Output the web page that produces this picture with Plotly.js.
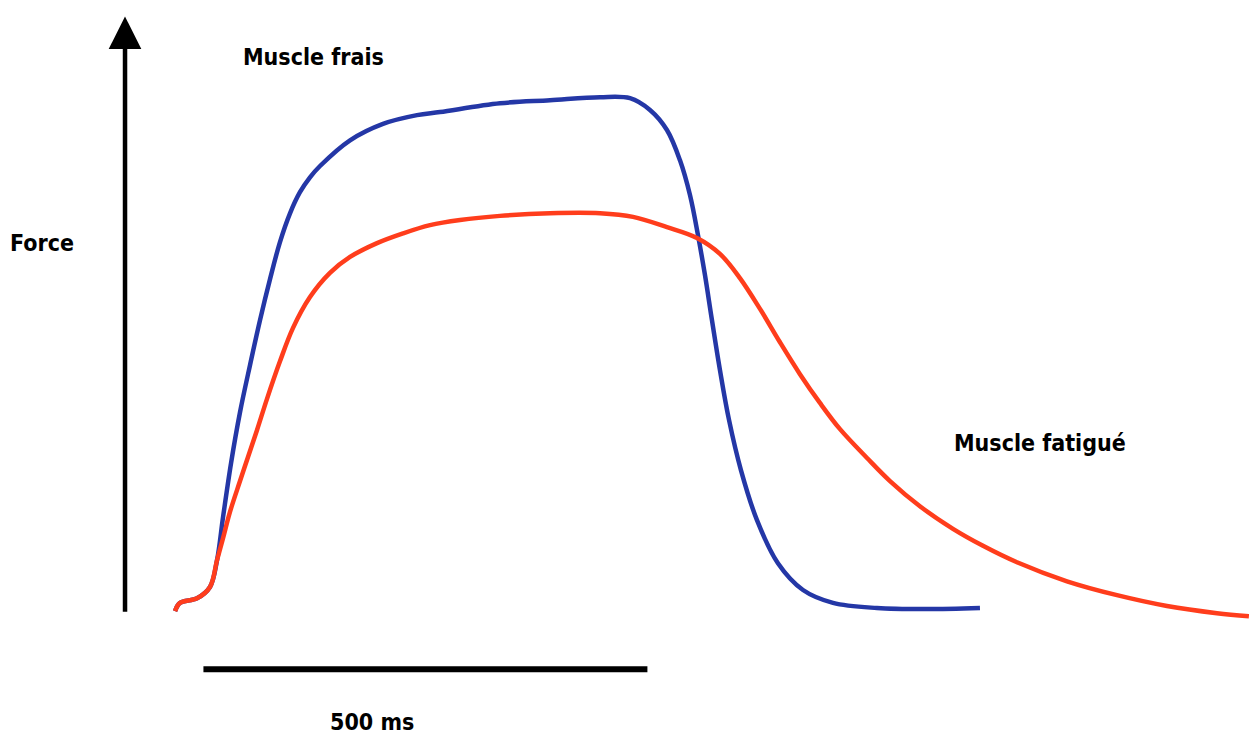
<!DOCTYPE html>
<html>
<head>
<meta charset="utf-8">
<script src="https://cdn.plot.ly/plotly-3.0.1.min.js"></script>
<style>
  html, body { margin: 0; padding: 0; background: #ffffff; }
  #chart { width: 1249px; height: 736px; }
</style>
</head>
<body>
<div id="chart"></div>
<script>
// Time (ms) and force (% of fresh-muscle peak)
const timeFrais = [0, 5.6, 24.8, 39.4, 47.3, 54.1, 63.1, 73.2, 84.5, 95.7, 107.0, 118.2, 129.5, 140.7, 152.0, 163.3, 197.1, 234.2, 272.5, 298.4, 366.0, 422.3, 478.6, 512.4, 534.9, 554.0, 568.7, 580.0, 588.9, 596.8, 604.7, 613.7, 623.9, 637.4, 655.4, 679.0, 707.2, 741.0, 790.5, 846.8, 906.5];
const forceFrais = [-0.2, 1.4, 2.3, 4.5, 9.7, 18.1, 28.6, 38.5, 47.7, 56.4, 64.4, 71.6, 77.2, 81.3, 84.2, 86.4, 91.4, 94.6, 96.3, 96.9, 98.6, 99.2, 99.8, 99.6, 97.3, 93.4, 87.5, 80.7, 73.0, 65.2, 56.4, 46.7, 37.0, 27.2, 17.5, 9.1, 3.9, 1.4, 0.4, 0.2, 0.4];

const timeFatigue = [0, 5.6, 24.8, 39.4, 47.3, 54.1, 61.9, 73.2, 82.2, 92.3, 103.6, 118.2, 132.9, 152.0, 174.5, 197.1, 227.5, 256.8, 287.2, 321.0, 366.0, 422.3, 478.6, 515.8, 554.0, 587.8, 613.7, 636.2, 658.8, 681.3, 703.8, 726.3, 748.9, 779.3, 805.2, 838.9, 876.1, 909.9, 948.2, 1004.5, 1060.8, 1117.1, 1173.4, 1209.4];
const forceFatigue = [-0.2, 1.4, 2.3, 4.5, 9.7, 14.0, 19.1, 25.1, 29.8, 35.0, 41.1, 48.4, 54.9, 60.9, 65.6, 68.7, 71.4, 73.3, 74.9, 75.9, 76.7, 77.2, 77.2, 76.5, 74.5, 72.4, 69.3, 64.6, 58.6, 52.1, 45.9, 40.3, 35.2, 29.6, 25.1, 20.2, 15.8, 12.5, 9.3, 5.6, 2.9, 0.8, -0.6, -1.2];

// Scale bar (ms)
const scaleBarStart = 32;
const scaleBarLength = 500;
const scaleBarLabel = "500 ms";

// Labels
const labelFrais = "Muscle frais";
const labelFatigue = "Muscle fatigué";
const labelForce = "Force";

const FONT = "'DejaVu Sans Condensed', 'Liberation Sans Narrow', sans-serif";
const BLUE = "#2437a6";
const RED = "#ff3d1c";

const traces = [
  {
    x: timeFrais, y: forceFrais, type: "scatter", mode: "lines",
    name: labelFrais,
    line: { color: BLUE, width: 4.5, shape: "spline", smoothing: 1 },
    hoverinfo: "skip"
  },
  {
    x: timeFatigue, y: forceFatigue, type: "scatter", mode: "lines",
    name: labelFatigue,
    line: { color: RED, width: 4.5, shape: "spline", smoothing: 1 },
    hoverinfo: "skip"
  }
];

const txtFont = { family: FONT, size: 23, color: "#000000", weight: "bold" };

const layout = {
  width: 1249, height: 736,
  margin: { l: 0, r: 0, t: 0, b: 0, pad: 0 },
  paper_bgcolor: "#ffffff", plot_bgcolor: "#ffffff",
  showlegend: false,
  xaxis: { range: [-197.1, 1209.5], visible: false, fixedrange: true },
  yaxis: { range: [-24.5, 118.7], visible: false, fixedrange: true },
  shapes: [
    {
      type: "line", xref: "x", yref: "y",
      x0: scaleBarStart, x1: scaleBarStart + scaleBarLength, y0: -11.5, y1: -11.5,
      line: { color: "#000000", width: 6 }
    }
  ],
  annotations: [
    {
      // vertical force axis arrow
      x: -56.3, y: 115.5, xref: "x", yref: "y",
      ax: -56.3, ay: -0.6, axref: "x", ayref: "y",
      text: "", showarrow: true, arrowhead: 2, arrowsize: 1.45, arrowwidth: 4.5,
      arrowcolor: "#000000", standoff: 0, startstandoff: 0
    },
    { x: -149.8, y: 71.4, xref: "x", yref: "y", text: labelForce, showarrow: false,
      font: txtFont, xanchor: "center", yanchor: "middle" },
    { x: 155.4, y: 107.6, xref: "x", yref: "y", text: labelFrais, showarrow: false,
      font: txtFont, xanchor: "center", yanchor: "middle" },
    { x: 974.1, y: 32.5, xref: "x", yref: "y", text: labelFatigue, showarrow: false,
      font: txtFont, xanchor: "center", yanchor: "middle" },
    { x: scaleBarStart + 190, y: -21.8, xref: "x", yref: "y", text: scaleBarLabel, showarrow: false,
      font: txtFont, xanchor: "center", yanchor: "middle" }
  ]
};

Plotly.newPlot("chart", traces, layout, { displayModeBar: false, staticPlot: true });
</script>
</body>
</html>
